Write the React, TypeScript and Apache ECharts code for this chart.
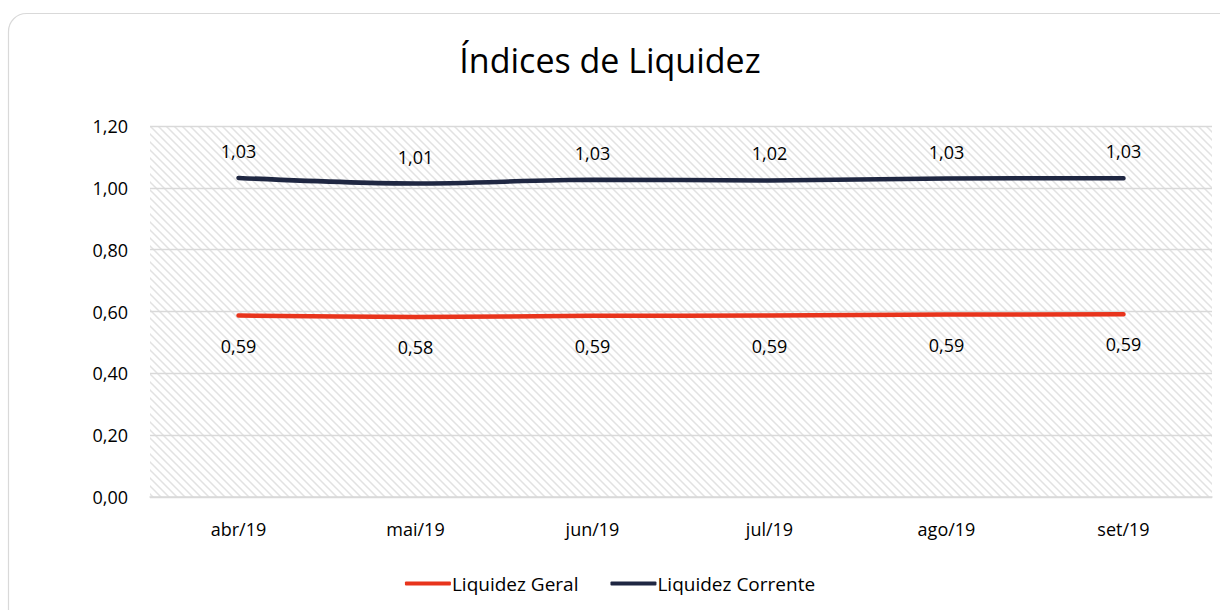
import React, { useEffect, useRef } from "react";
import * as echarts from "echarts";

const categories = ["abr/19", "mai/19", "jun/19", "jul/19", "ago/19", "set/19"];
const liquidezGeral = [0.587, 0.582, 0.586, 0.587, 0.59, 0.591];
const liquidezCorrente = [1.032, 1.014, 1.026, 1.024, 1.03, 1.031];
const seriesNames = ["Liquidez Geral", "Liquidez Corrente"];
const titleText = "Índices de Liquidez";

const FONT = "'Open Sans', 'Noto Sans', sans-serif";
const fmt = (v: number) => v.toFixed(2).replace(".", ",");

function hatchPattern() {
  const s = 8;
  const svg =
    `<svg xmlns='http://www.w3.org/2000/svg' width='${s}' height='${s}'>` +
    `<rect width='${s}' height='${s}' fill='white'/>` +
    `<path d='M-1,-1 L${s + 1},${s + 1} M${-s - 1},-1 L1,${s + 1} M${s - 1},-1 L${2 * s + 1},${s + 1}' stroke='#e2e2e2' stroke-width='1.5'/>` +
    `</svg>`;
  return {
    image: "data:image/svg+xml;charset=utf-8," + encodeURIComponent(svg),
    repeat: "repeat",
    imageWidth: s,
    imageHeight: s,
  } as any;
}

export default function App() {
  const ref = useRef<HTMLDivElement>(null);
  useEffect(() => {
    if (!ref.current) return;
    const chart = echarts.init(ref.current, null, { renderer: "svg" });
    const labelStyle = {
      show: true,
      fontFamily: FONT,
      fontSize: 18,
      color: "#000000",
      formatter: (p: any) => fmt(p.value),
    };
    chart.setOption({
      animation: false,
      backgroundColor: "#ffffff",
      textStyle: { fontFamily: FONT },
      graphic: [
        {
          type: "rect",
          z: -10,
          shape: { x: 8.5, y: 13.5, width: 1240, height: 640, r: 18 },
          style: { fill: "#ffffff", stroke: "#d9d9d9", lineWidth: 1.2 },
        },
      ],
      title: {
        text: titleText,
        left: "center",
        top: 38,
        textStyle: { fontFamily: FONT, fontSize: 34, fontWeight: "normal", color: "#000000" },
      },
      legend: {
        bottom: 12,
        left: "center",
        itemWidth: 46,
        itemHeight: 4,
        itemGap: 32,
        icon: "roundRect",
        textStyle: { fontFamily: FONT, fontSize: 19, color: "#000000", padding: [0, 0, 0, -4] },
        data: seriesNames,
      },
      grid: {
        left: 150,
        right: 8,
        top: 126,
        bottom: 113,
        show: true,
        backgroundColor: hatchPattern(),
        borderWidth: 0,
      },
      xAxis: {
        type: "category",
        data: categories,
        boundaryGap: true,
        axisLine: { show: true, lineStyle: { color: "#d9d9d9", width: 1.5 } },
        axisTick: { show: false },
        axisLabel: { fontFamily: FONT, fontSize: 18, color: "#000000", margin: 23 },
      },
      yAxis: {
        type: "value",
        min: 0,
        max: 1.2,
        interval: 0.2,
        axisLine: { show: false },
        axisTick: { show: false },
        splitLine: { show: true, lineStyle: { color: "#d9d9d9", width: 1.3 } },
        axisLabel: {
          fontFamily: FONT,
          fontSize: 18,
          color: "#000000",
          margin: 22,
          formatter: (v: number) => fmt(v),
        },
      },
      series: [
        {
          name: seriesNames[0],
          type: "line",
          data: liquidezGeral,
          smooth: 0.3,
          showSymbol: true,
          symbol: "circle",
          symbolSize: 2,
          itemStyle: { color: "#e8341c" },
          color: "#e8341c",
          lineStyle: { color: "#e8341c", width: 4.5, cap: "round" },
          label: { ...labelStyle, position: "bottom", distance: 20 },
        },
        {
          name: seriesNames[1],
          type: "line",
          data: liquidezCorrente,
          smooth: 0.3,
          showSymbol: true,
          symbol: "circle",
          symbolSize: 2,
          itemStyle: { color: "#1f2742" },
          color: "#1f2742",
          lineStyle: { color: "#1f2742", width: 4.5, cap: "round" },
          label: { ...labelStyle, position: "top", distance: 17 },
        },
      ],
    });
    return () => chart.dispose();
  }, []);
  return (
    <div
      ref={ref}
      style={{ position: "fixed", left: 0, top: 0, width: 1220, height: 610 }}
    />
  );
}
